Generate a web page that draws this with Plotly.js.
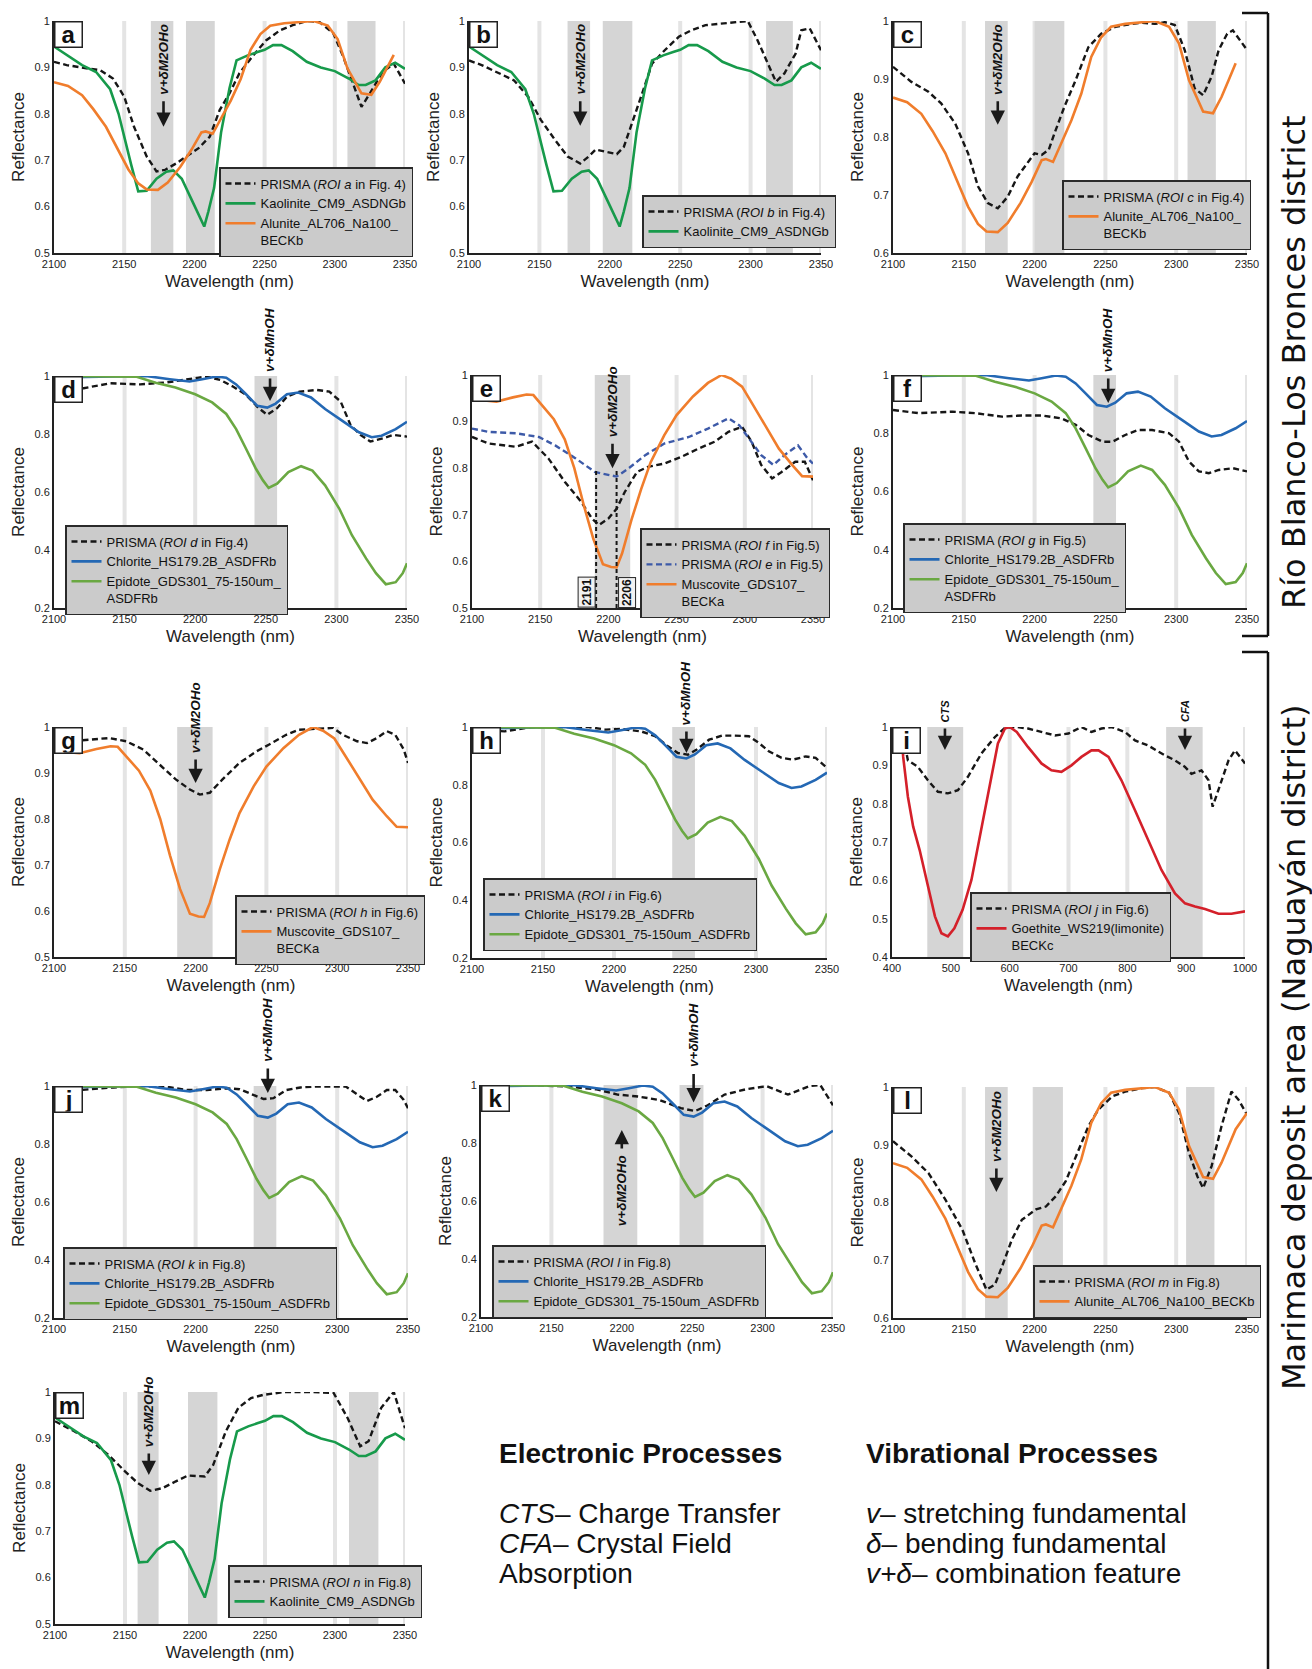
<!DOCTYPE html>
<html><head><meta charset="utf-8">
<script src="https://cdn.plot.ly/plotly-3.0.1.min.js"></script>
<style>html,body{margin:0;padding:0;background:#fff}#chart{width:1312px;height:1669px}</style>
</head><body><div id="chart"></div>
<script>
// ---------------- reference library spectra ----------------
const kaoWl = [2100,2110,2120,2130,2140,2146,2150,2155,2160,2166,2173,2180,2185,2191,2198,2204,2207,2210,2214,2219,2225,2230,2238,2245,2250,2256,2262,2270,2280,2290,2300,2310,2317,2322,2329,2336,2343,2350];
const kaoR  = [0.945,0.925,0.905,0.89,0.853,0.80,0.75,0.69,0.633,0.634,0.66,0.675,0.678,0.66,0.615,0.575,0.557,0.59,0.64,0.76,0.855,0.915,0.926,0.933,0.938,0.948,0.948,0.935,0.912,0.900,0.892,0.876,0.862,0.862,0.872,0.90,0.91,0.897];

const aluWl = [2100,2110,2120,2128,2137,2145,2153,2160,2166,2174,2181,2190,2198,2205,2208,2213,2219,2226,2233,2240,2247,2254,2264,2276,2285,2295,2302,2309,2315,2319,2326,2332,2337,2342,2350];
const aluR  = [0.868,0.86,0.84,0.81,0.772,0.726,0.68,0.65,0.637,0.636,0.652,0.686,0.723,0.76,0.762,0.757,0.789,0.829,0.875,0.938,0.972,0.99,0.995,0.998,1.0,0.99,0.961,0.898,0.864,0.844,0.841,0.869,0.898,0.927,0.955];

const chlWl = [2100,2120,2140,2165,2182,2196,2205,2215,2222,2229,2236,2244,2251,2257,2265,2273,2282,2292,2304,2316,2325,2332,2342,2350];
const chlR  = [0.995,0.997,1.0,1.0,0.989,0.981,0.989,0.998,0.994,0.971,0.937,0.897,0.891,0.905,0.937,0.943,0.926,0.886,0.846,0.806,0.789,0.794,0.817,0.842];

const epiWl = [2100,2142,2158,2172,2186,2200,2212,2222,2229,2236,2243,2248,2252,2258,2266,2275,2283,2292,2302,2311,2321,2328,2335,2342,2347,2350];
const epiR  = [1.0,1.0,0.998,0.977,0.96,0.937,0.909,0.869,0.817,0.749,0.68,0.64,0.614,0.629,0.669,0.689,0.674,0.623,0.543,0.451,0.371,0.32,0.282,0.289,0.32,0.354];

const musWl = [2100,2110,2118,2130,2140,2145,2151,2160,2168,2175,2182,2189,2196,2202,2206,2210,2217,2224,2231,2241,2250,2262,2273,2283,2290,2298,2306,2316,2325,2335,2342,2350];
const musR  = [0.948,0.945,0.943,0.952,0.958,0.957,0.937,0.905,0.862,0.80,0.72,0.648,0.594,0.588,0.587,0.617,0.69,0.755,0.813,0.871,0.914,0.954,0.983,1.0,0.992,0.975,0.936,0.886,0.842,0.806,0.783,0.782];

const goeWl = [416,419,427,436,447,461,473,484,495,506,520,535,552,569,580,592,600,612,631,654,671,688,705,722,739,751,768,790,813,835,858,881,898,915,932,955,977,1000];
const goeR  = [0.99,0.922,0.818,0.74,0.679,0.584,0.506,0.462,0.454,0.475,0.523,0.601,0.731,0.87,0.957,0.996,1.0,0.987,0.948,0.905,0.887,0.883,0.9,0.922,0.939,0.939,0.922,0.861,0.783,0.705,0.627,0.566,0.54,0.532,0.525,0.513,0.513,0.519];

// ---------------- PRISMA spectra ----------------
const pAwl = [2100,2109,2123,2133,2142,2150,2157,2166,2173,2179,2187,2194,2203,2211,2218,2225,2232,2242,2251,2261,2270,2280,2289,2299,2306,2313,2319,2325,2334,2342,2350];
const pAr  = [0.912,0.905,0.898,0.894,0.876,0.837,0.772,0.708,0.676,0.679,0.693,0.708,0.726,0.751,0.808,0.844,0.887,0.926,0.958,0.98,0.991,1.0,0.998,0.973,0.923,0.865,0.815,0.844,0.89,0.908,0.865];
const pBwl = [2100,2109,2123,2132,2142,2151,2161,2170,2179,2185,2190,2198,2205,2210,2215,2223,2230,2239,2249,2258,2268,2279,2289,2298,2305,2313,2318,2324,2332,2336,2342,2350];
const pBr  = [0.915,0.905,0.885,0.872,0.837,0.787,0.744,0.708,0.693,0.708,0.723,0.718,0.713,0.729,0.772,0.844,0.908,0.937,0.966,0.98,0.991,0.994,0.998,1.0,0.958,0.901,0.869,0.887,0.93,0.98,0.984,0.937];
const pCwl = [2100,2113,2125,2134,2144,2153,2160,2167,2174,2181,2188,2196,2200,2205,2210,2214,2221,2229,2238,2247,2257,2266,2276,2285,2292,2299,2306,2313,2319,2325,2330,2336,2340,2350];
const pCr  = [0.921,0.895,0.878,0.858,0.823,0.772,0.715,0.686,0.677,0.697,0.732,0.76,0.772,0.769,0.778,0.806,0.852,0.898,0.955,0.978,0.99,0.994,0.997,0.995,0.998,0.993,0.95,0.884,0.872,0.904,0.95,0.978,0.984,0.95];
const pDwl = [2100,2121,2140,2161,2180,2199,2208,2218,2227,2236,2245,2251,2258,2265,2274,2286,2295,2303,2310,2317,2324,2333,2340,2350];
const pDr  = [0.955,0.958,0.975,0.971,0.978,0.992,0.998,0.986,0.963,0.935,0.889,0.866,0.889,0.929,0.946,0.952,0.946,0.912,0.831,0.797,0.774,0.785,0.797,0.791];
const pEfWl = [2100,2112,2132,2144,2156,2168,2180,2188,2193,2200,2206,2212,2221,2229,2241,2254,2266,2278,2288,2298,2305,2312,2320,2327,2337,2344,2350];
const pEfR  = [0.867,0.853,0.846,0.857,0.821,0.771,0.728,0.692,0.678,0.692,0.713,0.749,0.792,0.803,0.81,0.825,0.842,0.857,0.878,0.889,0.857,0.807,0.778,0.792,0.814,0.814,0.774];
const pEeWl = [2100,2112,2132,2149,2161,2176,2190,2200,2206,2215,2227,2241,2259,2273,2288,2296,2305,2312,2321,2329,2339,2346,2350];
const pEeR  = [0.885,0.878,0.875,0.867,0.849,0.821,0.792,0.785,0.782,0.8,0.828,0.853,0.867,0.885,0.907,0.892,0.857,0.828,0.807,0.828,0.849,0.821,0.81];
const pFwl = [2100,2118,2142,2158,2177,2191,2205,2219,2229,2238,2248,2255,2264,2273,2283,2295,2302,2309,2316,2323,2330,2340,2350];
const pFr  = [0.88,0.869,0.874,0.869,0.857,0.861,0.861,0.851,0.829,0.794,0.771,0.771,0.794,0.811,0.811,0.8,0.771,0.703,0.669,0.663,0.674,0.68,0.669];
const pGwl = [2100,2119,2139,2151,2163,2175,2186,2196,2203,2210,2219,2231,2243,2252,2264,2273,2285,2297,2304,2314,2321,2328,2335,2341,2347,2350];
const pGr  = [0.97,0.971,0.976,0.969,0.951,0.918,0.886,0.864,0.853,0.857,0.886,0.922,0.947,0.962,0.983,0.994,0.996,0.998,0.983,0.969,0.965,0.976,0.991,0.983,0.951,0.922];
const pHwl = [2100,2123,2142,2165,2182,2194,2205,2219,2229,2238,2245,2252,2258,2267,2276,2285,2295,2302,2309,2318,2326,2335,2342,2350];
const pHr  = [0.99,0.985,1.0,1.0,1.0,0.991,0.993,0.985,0.968,0.933,0.91,0.904,0.921,0.956,0.97,0.97,0.968,0.945,0.916,0.893,0.887,0.898,0.893,0.858];
const pIwl = [416,427,444,461,478,495,512,529,552,575,592,612,631,654,677,700,722,739,756,773,796,813,835,864,881,898,909,926,938,945,955,972,983,1000];
const pIr  = [1.0,0.913,0.896,0.861,0.831,0.827,0.835,0.87,0.931,0.974,0.998,1.0,0.996,0.987,0.978,0.983,1.0,0.987,0.996,1.0,0.987,0.965,0.952,0.926,0.913,0.896,0.878,0.887,0.861,0.792,0.835,0.913,0.939,0.905];
const pJwl = [2100,2118,2142,2161,2179,2194,2208,2222,2231,2241,2248,2255,2264,2274,2285,2297,2306,2313,2321,2328,2335,2341,2347,2350];
const pJr  = [0.99,0.986,0.995,1.0,0.998,0.986,0.986,0.992,0.989,0.969,0.955,0.958,0.986,0.995,0.998,0.998,0.998,0.975,0.948,0.963,0.986,0.986,0.952,0.923];
const pKwl = [2100,2136,2160,2182,2197,2212,2227,2242,2252,2261,2273,2288,2303,2318,2333,2341,2350];
const pKr  = [1.0,1.0,0.995,0.985,0.967,0.96,0.948,0.92,0.91,0.93,0.967,0.985,0.996,0.967,0.996,1.0,0.93];
const pLwl = [2100,2113,2125,2137,2149,2158,2166,2172,2177,2184,2191,2201,2208,2215,2222,2229,2238,2245,2255,2264,2276,2285,2295,2302,2309,2315,2319,2325,2332,2339,2344,2350];
const pLr  = [0.906,0.88,0.851,0.805,0.753,0.695,0.649,0.658,0.689,0.736,0.77,0.788,0.793,0.811,0.837,0.88,0.932,0.961,0.984,0.992,0.998,1.0,0.99,0.955,0.886,0.845,0.825,0.863,0.932,0.992,0.978,0.952];
const pMwl = [2100,2114,2126,2138,2150,2159,2168,2177,2186,2195,2207,2213,2222,2231,2240,2249,2264,2282,2299,2309,2318,2324,2333,2342,2350];
const pMr  = [0.937,0.915,0.894,0.865,0.829,0.804,0.787,0.793,0.807,0.82,0.818,0.843,0.915,0.966,0.987,0.994,1.0,1.0,0.998,0.944,0.883,0.894,0.966,1.0,0.922];

// marked wavelengths in panel e
const eMarks = [2191, 2206];

// ---------------- layout helpers ----------------
const W = 1312, H = 1669;
const FONT = 'Arial, "Liberation Sans", sans-serif';
const aluWlS = aluWl.slice(0, -1), aluRS = aluR.slice(0, -1);

const ST = {
  prisma:     {color:'#161616', width:2.4, dash:'6px,3.5px'},
  prismaBlue: {color:'#3d5aa8', width:2.4, dash:'6px,3.5px'},
  kao: {color:'#179a4b', width:2.6},
  alu: {color:'#f07d2c', width:2.6},
  chl: {color:'#2468b4', width:2.6},
  epi: {color:'#6aa842', width:2.6},
  mus: {color:'#f07d2c', width:2.6},
  goe: {color:'#d4202a', width:2.6}
};
const CHL = 'Chlorite_HS179.2B_ASDFRb';
const EPI2 = 'Epidote_GDS301_75-150um_<br>ASDFRb';
const EPI1 = 'Epidote_GDS301_75-150um_ASDFRb';
const V2 = 'v+δM2OHo', VMN = 'v+δMnOH';

const panels = [
 {L:'a', box:[54,405,21,253], yr:[0.5,1], dy:0.1, lg:[219,167],
  bands:[[2169,2185],[2194,2214.5],[2309,2329]],
  arrows:[{x:2178,tip:0.772,len:27,t:V2}],
  series:[[pAwl,pAr,'PRISMA (<i>ROI a</i> in Fig. 4)','prisma'],[kaoWl,kaoR,'Kaolinite_CM9_ASDNGb','kao'],[aluWlS,aluRS,'Alunite_AL706_Na100_<br>BECKb','alu']]},
 {L:'b', box:[469,821,21,253], yr:[0.5,1], dy:0.1, lg:[642,195],
  bands:[[2170,2186],[2195,2216],[2311,2330]],
  arrows:[{x:2179,tip:0.774,len:26,t:V2}],
  series:[[pBwl,pBr,'PRISMA (<i>ROI b</i> in Fig.4)','prisma'],[kaoWl,kaoR,'Kaolinite_CM9_ASDNGb','kao']]},
 {L:'c', box:[893,1247,21,253], yr:[0.6,1], dy:0.1, lg:[1062,180],
  bands:[[2165,2181],[2200,2221],[2308,2328]],
  arrows:[{x:2174,tip:0.821,len:25,t:V2}],
  series:[[pCwl,pCr,'PRISMA (<i>ROI c</i> in Fig.4)','prisma'],[aluWlS,aluRS,'Alunite_AL706_Na100_<br>BECKb','alu']]},
 {L:'d', box:[54,407,376,608], yr:[0.2,1], dy:0.2, lg:[65,525],
  bands:[[2242,2258]],
  arrows:[{x:2253,tip:0.914,len:24,t:VMN}],
  series:[[pDwl,pDr,'PRISMA (<i>ROI d</i> in Fig.4)','prisma'],[chlWl,chlR,CHL,'chl'],[epiWl,epiR,EPI2,'epi']]},
 {L:'e', box:[472,813,375,608], yr:[0.5,1], dy:0.1, lg:[640,528],
  bands:[[2190,2216]],
  arrows:[{x:2203,tip:0.80,len:26,t:V2}],
  series:[[pEfWl,pEfR,'PRISMA (<i>ROI f</i> in Fig.5)','prisma'],[pEeWl,pEeR,'PRISMA (<i>ROI e</i> in Fig.5)','prismaBlue'],[musWl,musR,'Muscovite_GDS107_<br>BECKa','mus']]},
 {L:'f', box:[893,1247,375,608], yr:[0.2,1], dy:0.2, lg:[903,523],
  bands:[[2241.5,2257.5]],
  arrows:[{x:2252,tip:0.904,len:26,t:VMN}],
  series:[[pFwl,pFr,'PRISMA (<i>ROI g</i> in Fig.5)','prisma'],[chlWl,chlR,CHL,'chl'],[epiWl,epiR,EPI2,'epi']]},
 {L:'g', box:[54,408,727,957], yr:[0.5,1], dy:0.1, lg:[235,895],
  bands:[[2187,2212]],
  arrows:[{x:2200,tip:0.878,len:25,t:V2}],
  series:[[pGwl,pGr,'PRISMA (<i>ROI h</i> in Fig.6)','prisma'],[musWl,musR,'Muscovite_GDS107_<br>BECKa','mus']]},
 {L:'h', box:[472,827,727,958], yr:[0.2,1], dy:0.2, lg:[483,878],
  bands:[[2241,2257]],
  arrows:[{x:2251,tip:0.91,len:23,t:VMN}],
  series:[[pHwl,pHr,'PRISMA (<i>ROI i</i> in Fig.6)','prisma'],[chlWl,chlR,CHL,'chl'],[epiWl,epiR,EPI1,'epi']]},
 {L:'i', box:[892,1245,727,957], xr:[400,1000], xd:100, yr:[0.4,1], dy:0.1, lg:[970,892],
  bands:[[460,521],[866,928]],
  arrows:[{x:490,tip:0.94,len:23,t:'CTS',fs:11},{x:898,tip:0.94,len:23,t:'CFA',fs:11}],
  series:[[pIwl,pIr,'PRISMA (<i>ROI j</i> in Fig.6)','prisma'],[goeWl,goeR,'Goethite_WS219(limonite)<br>BECKc','goe']]},
 {L:'j', box:[54,408,1086,1318], yr:[0.2,1], dy:0.2, lg:[63,1247],
  bands:[[2241,2257]],
  arrows:[{x:2251,tip:0.976,len:26,t:VMN}],
  series:[[pJwl,pJr,'PRISMA (<i>ROI k</i> in Fig.8)','prisma'],[chlWl,chlR,CHL,'chl'],[epiWl,epiR,EPI1,'epi']]},
 {L:'k', box:[481,833,1085,1317], yr:[0.2,1], dy:0.2, lg:[492,1245],
  bands:[[2187,2211],[2241,2258]],
  arrows:[{x:2251,tip:0.94,len:30,t:VMN},{x:2200,tip:0.845,len:20,t:V2,up:true}],
  series:[[pKwl,pKr,'PRISMA (<i>ROI l</i> in Fig.8)','prisma'],[chlWl,chlR,CHL,'chl'],[epiWl,epiR,EPI1,'epi']]},
 {L:'l', box:[893,1247,1087,1318], yr:[0.6,1], dy:0.1, lg:[1033,1265],
  bands:[[2165,2181],[2199,2220],[2307,2327]],
  arrows:[{x:2173,tip:0.818,len:25,t:V2}],
  series:[[pLwl,pLr,'PRISMA (<i>ROI m</i> in Fig.8)','prisma'],[aluWl,aluR,'Alunite_AL706_Na100_BECKb','alu']]},
 {L:'m', box:[55,405,1392,1624], yr:[0.5,1], dy:0.1, lg:[228,1565],
  bands:[[2159,2174],[2195,2216],[2310,2331]],
  arrows:[{x:2167,tip:0.821,len:23,t:V2}],
  series:[[pMwl,pMr,'PRISMA (<i>ROI n</i> in Fig.8)','prisma'],[kaoWl,kaoR,'Kaolinite_CM9_ASDNGb','kao']]}
];

const data = [];
const layout = {
  width: W, height: H, margin:{l:0,r:0,t:0,b:0},
  paper_bgcolor:'#ffffff', plot_bgcolor:'#ffffff',
  font:{family:FONT, color:'#222'},
  showlegend:true, hovermode:false,
  annotations:[], shapes:[]
};

panels.forEach((p, i) => {
  const n = i + 1, s = n === 1 ? '' : String(n);
  const xa = 'x' + s, ya = 'y' + s, lgName = 'legend' + s;
  const [x0, x1, y0, y1] = p.box;
  const xr = p.xr || [2100, 2350];
  const xd = p.xd || 50;
  layout['xaxis' + s] = {
    domain:[x0 / W, x1 / W], anchor: ya, range: xr, tick0: xr[0], dtick: xd,
    showgrid:false, zeroline:false,
    showline:true, linecolor:'#222', linewidth:2, ticks:'',
    tickfont:{size:11, color:'#222', family:FONT},
    title:{text:'Wavelength (nm)', font:{size:17, color:'#222', family:FONT}, standoff:6},
    fixedrange:true
  };
  layout['yaxis' + s] = {
    domain:[1 - y1 / H, 1 - y0 / H], anchor: xa, range: p.yr, tick0:0, dtick: p.dy,
    showgrid:false, zeroline:false, showline:true, linecolor:'#222', linewidth:2, ticks:'',
    tickfont:{size:11, color:'#222', family:FONT},
    title:{text:'Reflectance', font:{size:17, color:'#222', family:FONT}, standoff:6},
    fixedrange:true
  };
  layout[lgName] = {
    x: p.lg[0] / W, y: 1 - p.lg[1] / H, xanchor:'left', yanchor:'top',
    bgcolor:'#cbcbcb', bordercolor:'#2a2a2a', borderwidth:1.5,
    font:{size:13, color:'#111', family:FONT}, itemwidth:30, valign:'top',
    tracegroupgap:0, traceorder:'normal'
  };
  p.series.forEach(([xs, ys, name, st]) => {
    data.push({type:'scatter', mode:'lines', x: xs, y: ys, name: name,
      xaxis: xa, yaxis: ya, legend: lgName, line: Object.assign({}, ST[st]), hoverinfo:'skip'});
  });
  // vertical light-grey grid lines at the x tick positions (drawn first, under the bands)
  for (let v = xr[0] + xd; v <= xr[1] + 1e-9; v += xd) {
    layout.shapes.push({type:'line', xref: xa, yref: ya + ' domain', x0: v, x1: v, y0: 0, y1: 1,
      line:{color:'#e4e4e4', width:4}, layer:'below'});
  }
  (p.bands || []).forEach(([b0, b1]) => {
    layout.shapes.push({type:'rect', xref: xa, yref: ya + ' domain', x0: b0, x1: b1, y0: 0, y1: 1,
      fillcolor:'#d5d5d5', line:{width:0}, layer:'below'});
  });
  (p.arrows || []).forEach(a => {
    const fs = a.fs || 13.5;
    layout.annotations.push({xref: xa, yref: ya, x: a.x, y: a.tip, text:'', showarrow:true,
      arrowhead:2, arrowsize:1.1, arrowwidth:2.6, arrowcolor:'#1a1a1a', ax:0, ay: a.up ? a.len : -a.len, standoff:0});
    layout.annotations.push({xref: xa, yref: ya, x: a.x, y: a.tip, text:'<b><i>' + a.t + '</i></b>', showarrow:false,
      textangle:-90, xanchor:'center', yanchor: a.up ? 'top' : 'bottom', yshift: a.up ? -(a.len + 3) : (a.len + 3),
      font:{size: fs, color:'#111', family:FONT}});
  });
  layout.annotations.push({xref: xa + ' domain', yref: ya + ' domain', x:0, y:1, xanchor:'left', yanchor:'top',
    text:'<b>' + p.L + '</b>', showarrow:false, font:{size:24, color:'#111', family:FONT},
    bgcolor:'#ffffff', bordercolor:'#222', borderwidth:1.5, borderpad:0, width:26, height:24, align:'center', valign:'middle'});
  if (p.L === 'e') {
    eMarks.forEach((w, k) => {
      layout.shapes.push({type:'line', xref: xa, yref: ya, x0: w, x1: w, y0: 0.5, y1: 0.795,
        line:{color:'#161616', width:2, dash:'4px,3px'}, layer:'above'});
      layout.annotations.push({xref: xa, yref: ya, x: w, y: 0.5, text:'<b>' + w + '</b>', showarrow:false,
        textangle:-90, xanchor: k === 0 ? 'right' : 'left', yanchor:'bottom', xshift: k === 0 ? -1 : 1,
        font:{size:12, color:'#111', family:FONT}, bgcolor:'#f2f2f2', bordercolor:'#222', borderwidth:1, borderpad:1});
    });
  }
});

// ---------- text blocks ----------
const tb = (txt, x, y, size) => layout.annotations.push({xref:'paper', yref:'paper', x: x / W, y: 1 - y / H,
  xanchor:'left', yanchor:'middle', text: txt, showarrow:false, font:{size: size, color:'#111', family:FONT}});
tb('<b>Electronic Processes</b>', 497, 1453, 28);
tb('<b>Vibrational Processes</b>', 864, 1453, 28);
tb('<i>CTS</i>– Charge Transfer', 497, 1513, 28);
tb('<i>CFA</i>– Crystal Field', 497, 1543, 28);
tb('Absorption', 497, 1573, 28);
tb('<i>v</i>– stretching fundamental', 864, 1513, 28);
tb('<i>δ</i>– bending fundamental', 864, 1543, 28);
tb('<i>v+δ</i>– combination feature', 864, 1573, 28);

// ---------- district brackets ----------
const ln = (x0, y0, x1, y1) => layout.shapes.push({type:'line', xref:'paper', yref:'paper',
  x0: x0 / W, x1: x1 / W, y0: 1 - y0 / H, y1: 1 - y1 / H, line:{color:'#111', width:2.5}});
ln(1242, 13, 1268, 13); ln(1268, 13, 1268, 636); ln(1242, 636, 1268, 636);
ln(1242, 652, 1268, 652); ln(1268, 652, 1268, 1669);
const rt = (txt, y) => layout.annotations.push({xref:'paper', yref:'paper', x: 1294 / W, y: 1 - y / H,
  xanchor:'center', yanchor:'middle', text: txt, textangle:-90, showarrow:false,
  font:{size:32, color:'#111', family:'"DejaVu Sans", Arial, sans-serif'}});
rt('Río Blanco-Los Bronces district', 362);
rt('Marimaca deposit area (Naguayán district)', 1048);

Plotly.newPlot('chart', data, layout, {displayModeBar:false, staticPlot:true});
</script></body></html>
